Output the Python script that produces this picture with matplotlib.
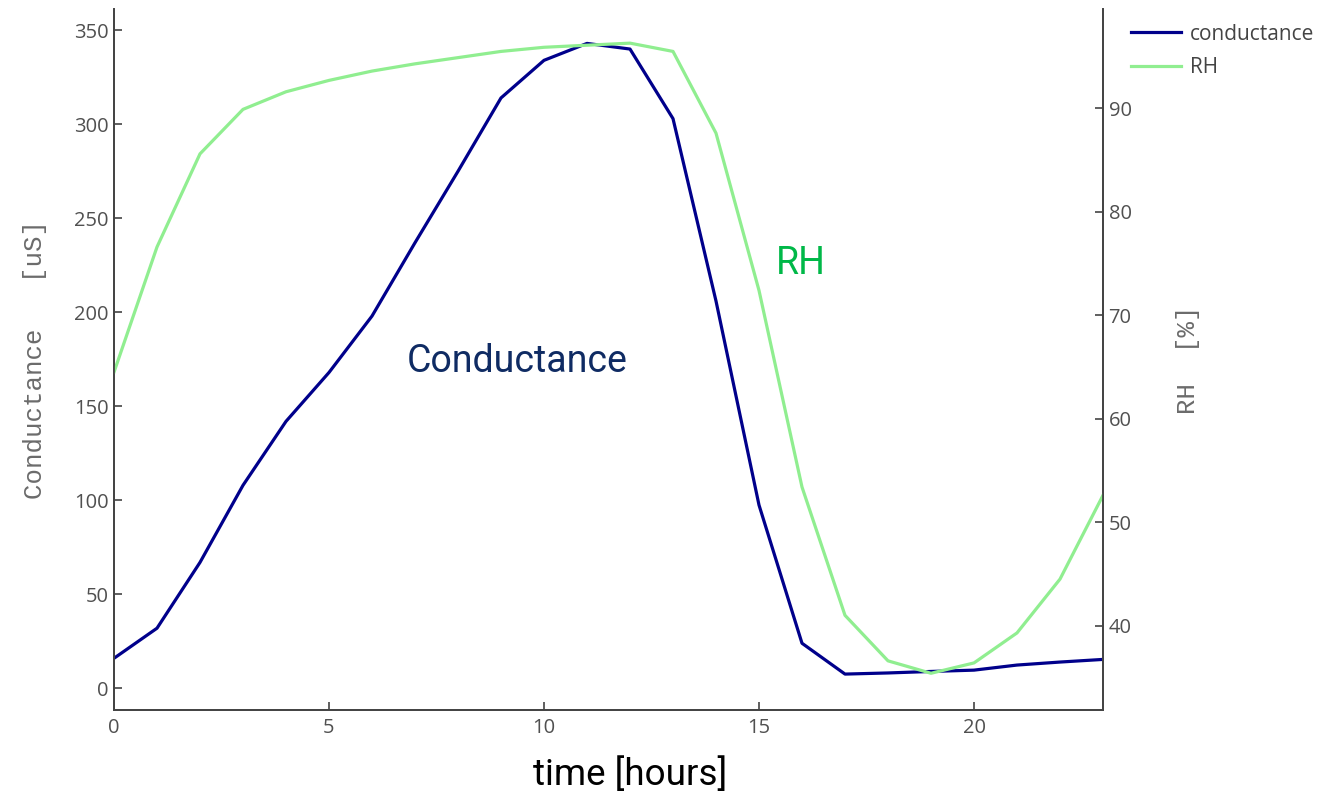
import numpy as np
import matplotlib
matplotlib.use("Agg")
import matplotlib.pyplot as plt

# hourly data
hours = list(range(24))
conductance = [16, 32, 67, 108, 142, 168, 198, 237, 275, 314, 334, 343, 340, 303,
               206, 97.5, 24, 7.6, 8.2, 9.0, 9.7, 12.4, 14, 15.4]
rh = [64.5, 76.6, 85.6, 89.9, 91.6, 92.7, 93.6, 94.3, 94.9, 95.5, 95.9, 96.1, 96.3, 95.5,
      87.6, 72.4, 53.4, 41.0, 36.6, 35.4, 36.4, 39.3, 44.5, 52.6]

x_ticks = [0, 5, 10, 15, 20]
left_ticks = [0, 50, 100, 150, 200, 250, 300, 350]
right_ticks = [40, 50, 60, 70, 80, 90]

axis_col = '#444444'
tick_col = '#505050'
tick_font = 'Open Sans'

fig = plt.figure(figsize=(13.4, 7.94), dpi=100)
ax = fig.add_axes([114/1340, 1 - 710/794, (1103 - 114)/1340, (710 - 9)/794])
ax2 = ax.twinx()

l1, = ax.plot(hours, conductance, color='#00008b', lw=2.3, label='conductance')
l2, = ax2.plot(hours, rh, color='#90ee90', lw=2.3, label='RH')

ax.set_xlim(0, 23)
ax.set_ylim(-11.5, 361.3)
ax2.set_ylim(31.85, 99.6)

ax.set_xticks(x_ticks)
ax.set_yticks(left_ticks)
ax2.set_yticks(right_ticks)

for a in (ax, ax2):
    a.spines['top'].set_visible(False)
    for s in ('left', 'right', 'bottom'):
        a.spines[s].set_color(axis_col)
        a.spines[s].set_linewidth(1.3)
    a.tick_params(direction='in', length=6, width=1.2, color=axis_col,
                  labelcolor=tick_col, labelsize=14.5)
    for lab in a.get_xticklabels() + a.get_yticklabels():
        lab.set_fontfamily(tick_font)

ax.tick_params(axis='x', pad=6)
ax.tick_params(axis='y', pad=4)
ax2.tick_params(axis='y', pad=4)

ax.set_ylabel('Conductance   [uS]', fontfamily='Liberation Mono', fontsize=18.5,
              color='#6b6b6b', labelpad=19)
ax2.set_ylabel('RH  [%]', fontfamily='Liberation Mono', fontsize=18.5,
               color='#6b6b6b', labelpad=32)

fig.text(630/1340, 1 - 775/794, 'time [hours]', fontfamily='Roboto', fontsize=26.5,
         color='black', ha='center', va='center')

ax.text(9.37, 173.6, 'Conductance', fontfamily='Roboto', fontsize=27,
        color='#0f2b63', ha='center', va='center')
ax.text(15.98, 226, 'RH', fontfamily='Roboto', fontsize=27,
        color='#00b848', ha='center', va='center')

fig.legend(handles=[l1, l2], loc='upper left', bbox_to_anchor=(1112/1340, 1 - 5/794),
           frameon=False, prop={'family': tick_font, 'size': 15}, labelcolor='#444444',
           handlelength=2.4, handletextpad=0.45, labelspacing=0.6)

fig.savefig('out.png', dpi=100)
